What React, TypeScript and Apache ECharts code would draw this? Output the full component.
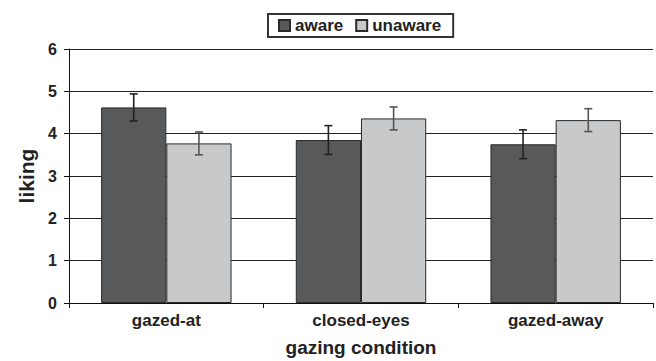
import React, { useEffect, useRef } from "react";
import * as echarts from "echarts";

const categories = ["gazed-at", "closed-eyes", "gazed-away"];
const awareValues = [4.62, 3.85, 3.75];
const awareErrors = [0.32, 0.34, 0.34];
const unawareValues = [3.77, 4.36, 4.32];
const unawareErrors = [0.27, 0.27, 0.27];
const yTicks = [0, 1, 2, 3, 4, 5, 6];

const FONT = "'Liberation Sans', Arial, sans-serif";
const GAP = 0.33;

function errorSeries(name: string, vals: number[], errs: number[], side: number, color: string) {
  return {
    type: "custom",
    name: name + "-err",
    silent: true,
    z: 5,
    encode: { x: 0, y: 1 },
    data: vals.map((v, i) => [i, v, v - errs[i], v + errs[i]]),
    renderItem: (params: any, api: any) => {
      const cw = api.size([1, 0])[0];
      const bw = (cw * (1 - GAP)) / 2;
      const c = api.coord([api.value(0), api.value(1)]);
      const x = c[0] + side * bw / 2;
      const lo = api.coord([api.value(0), api.value(2)])[1];
      const hi = api.coord([api.value(0), api.value(3)])[1];
      const cap = 4;
      const style = { stroke: color, lineWidth: 1.6 };
      return {
        type: "group",
        children: [
          { type: "line", shape: { x1: x, y1: lo, x2: x, y2: hi }, style },
          { type: "line", shape: { x1: x - cap, y1: hi, x2: x + cap, y2: hi }, style },
          { type: "line", shape: { x1: x - cap, y1: lo, x2: x + cap, y2: lo }, style },
        ],
      };
    },
  };
}

export default function App() {
  const ref = useRef<HTMLDivElement>(null);
  useEffect(() => {
    if (!ref.current) return;
    const chart = echarts.init(ref.current, null, { renderer: "svg" });
    chart.setOption({
      animation: false,
      backgroundColor: "#ffffff",
      textStyle: { fontFamily: FONT },
      legend: {
        data: ["aware", "unaware"],
        left: 268,
        top: 14,
        orient: "horizontal",
        borderColor: "#333",
        borderWidth: 2,
        padding: [3, 12, 3, 10],
        itemWidth: 11,
        itemHeight: 11,
        itemGap: 12,
        icon: "rect",
        textStyle: { fontFamily: FONT, fontWeight: "bold", fontSize: 17, color: "#222" },
      },
      grid: { left: 69, right: 3, top: 49, bottom: 58, containLabel: false, outerBoundsMode: "none" },
      xAxis: {
        type: "category",
        data: categories,
        name: "gazing condition",
        nameLocation: "middle",
        nameGap: 35,
        nameTextStyle: { fontFamily: FONT, fontWeight: "bold", fontSize: 19, color: "#222" },
        axisLine: { lineStyle: { color: "#111", width: 1 } },
        axisTick: { show: true, alignWithLabel: false, length: 5, lineStyle: { color: "#111" } },
        axisLabel: { fontFamily: FONT, fontWeight: "bold", fontSize: 17, color: "#222", margin: 9 },
      },
      yAxis: {
        type: "value",
        min: 0,
        max: 6,
        interval: 1,
        name: "liking",
        nameLocation: "middle",
        nameGap: 29,
        nameRotate: 90,
        nameTextStyle: { fontFamily: FONT, fontWeight: "bold", fontSize: 21, color: "#222" },
        axisLine: { show: true, lineStyle: { color: "#111", width: 1 } },
        axisTick: { show: true, length: 5, lineStyle: { color: "#111" } },
        axisLabel: {
          fontFamily: FONT,
          fontWeight: "bold",
          fontSize: 16,
          color: "#222",
          margin: 12,
          formatter: (v: number) => (yTicks.includes(v) ? String(v) : ""),
        },
        splitLine: { show: true, lineStyle: { color: "#222", width: 1 } },
      },
      series: [
        {
          name: "aware",
          type: "bar",
          data: awareValues,
          barGap: "0%",
          barCategoryGap: "33%",
          itemStyle: { color: "#58595b", borderColor: "#2a2a2a", borderWidth: 1 },
        },
        {
          name: "unaware",
          type: "bar",
          data: unawareValues,
          itemStyle: { color: "#c8c9cb", borderColor: "#2a2a2a", borderWidth: 1 },
        },
        errorSeries("aware", awareValues, awareErrors, -1, "#222"),
        errorSeries("unaware", unawareValues, unawareErrors, 1, "#555"),
      ],
    });
    return () => chart.dispose();
  }, []);
  return <div ref={ref} style={{ width: 656, height: 361, position: "absolute", left: 0, top: 0 }} />;
}
